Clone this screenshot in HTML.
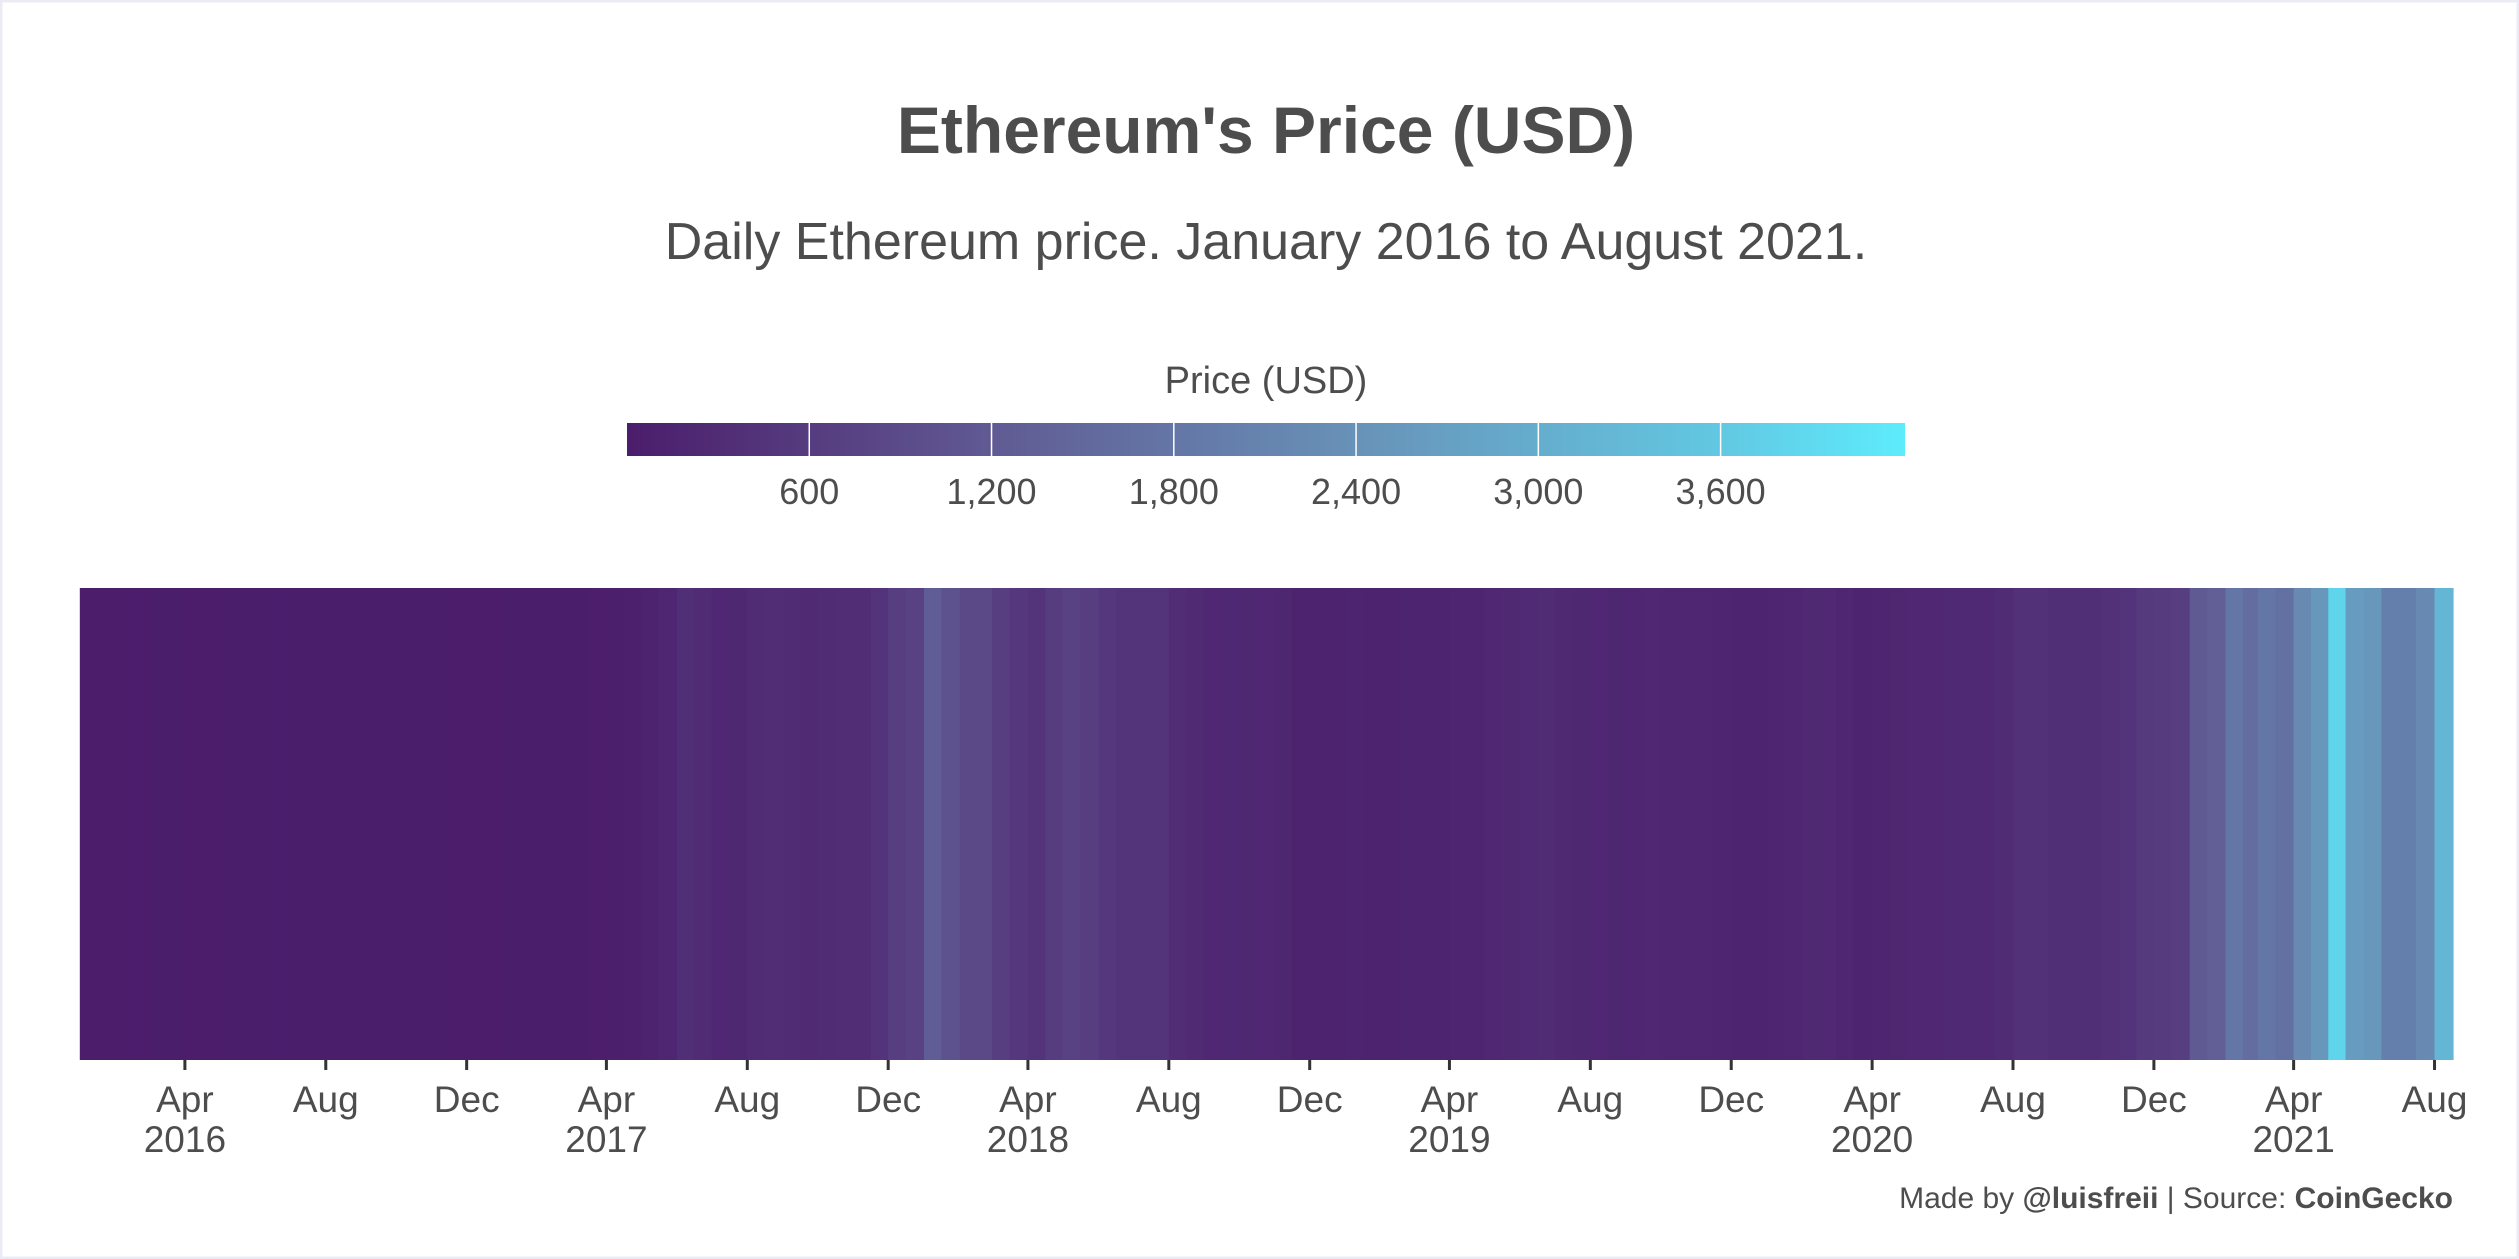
<!DOCTYPE html>
<html><head><meta charset="utf-8">
<style>
html,body{margin:0;padding:0;background:#fff;}
svg{display:block;font-family:"Liberation Sans",sans-serif;}
</style></head>
<body>
<svg id="chart" width="2519" height="1259" viewBox="0 0 2519 1259">
<rect x="1" y="1" width="2517" height="1257" fill="#fff" stroke="#ebebf5" stroke-width="3"/>
<text x="1266" y="153" text-anchor="middle" font-size="66" font-weight="bold" fill="#4d4d4d">Ethereum's Price (USD)</text>
<text x="1266" y="259" text-anchor="middle" font-size="52" fill="#4d4d4d">Daily Ethereum price. January 2016 to August 2021.</text>
<text x="1266" y="393" text-anchor="middle" font-size="38" fill="#4d4d4d">Price (USD)</text>
<defs>
<linearGradient id="grad" x1="0" x2="1" y1="0" y2="0">
<stop offset="0" stop-color="#4b1d6b"/><stop offset="0.285" stop-color="#605a93"/>
<stop offset="0.57" stop-color="#6892b8"/><stop offset="0.856" stop-color="#62c8e2"/>
<stop offset="1" stop-color="#5decfc"/></linearGradient>
</defs>
<rect x="627" y="423" width="1278" height="33" fill="url(#grad)"/>
<g id="legendTicks"></g>
<g id="cells"></g>
<g id="xaxis"></g>
<text x="2453" y="1208" text-anchor="end" font-size="30" fill="#4d4d4d">Made by <tspan font-weight="bold">@luisfreii</tspan> | Source: <tspan font-weight="bold">CoinGecko</tspan></text>
</svg>
<script>
const years=[2016,2017,2018,2019,2020,2021];
const prices2016=[1,1,2,5,10,11,8,8,10,13,15,13,11,12,11,11,12,13,12,11,10,9,8,8];
const prices2017=[10,10,11,13,22,45,48,50,90,180,350,300,200,210,300,320,290,280,300,310,320,450,650,720];
const prices2018=[1250,1050,850,850,650,520,450,620,720,640,520,450,460,460,320,280,200,225,210,200,190,120,90,120];
const prices2019=[130,115,125,140,135,140,165,165,200,250,260,300,250,215,200,190,180,200,180,180,180,150,140,130];
const prices2020=[150,170,250,240,170,130,160,190,205,205,235,235,240,300,400,400,360,355,360,400,460,570,600,640];
const prices2021=[1200,1300,1800,1600,1800,1700,2200,2500,3800,2600,2500,2000,2000,2200,3200];
const legendTicks=[600,1200,1800,2400,3000,3600];
const legendLabels=["600","1,200","1,800","2,400","3,000","3,600"];
const axisMonths=[3,7,11];
const monthNames=["Jan","Feb","Mar","Apr","May","Jun","Jul","Aug","Sep","Oct","Nov","Dec"];

const NS="http://www.w3.org/2000/svg";
const t0=Date.UTC(2016,0,1), tEnd=Date.UTC(2021,7,17);
const X0=79.8, X1=2453;
const pxDay=(X1-X0)/((tEnd-t0)/864e5);
const xScale=t=>X0+(t-t0)/864e5*pxDay;
const cMax=4207, cx0=627, cw=1278;
const lScale=v=>cx0+v/cMax*cw;
const stops=[[0,[75,29,107]],[1200,[96,90,147]],[2400,[104,146,184]],[3600,[98,200,226]],[4207,[93,236,252]]];
function color(v){
  v=Math.max(0,Math.min(cMax,v));
  for(let i=0;i<stops.length-1;i++){const a=stops[i],b=stops[i+1];
    if(v<=b[0]){const f=(v-a[0])/(b[0]-a[0]);
      return "rgb("+a[1].map((c,k)=>Math.round(c+(b[1][k]-c)*f)).join(",")+")";}}
  return "rgb(93,236,252)";
}
const lt=document.getElementById('legendTicks');
legendTicks.forEach((v,i)=>{
  const x=lScale(v);
  const l=document.createElementNS(NS,'line');
  l.setAttribute('x1',x);l.setAttribute('x2',x);l.setAttribute('y1',423);l.setAttribute('y2',456);
  l.setAttribute('stroke','#fff');l.setAttribute('stroke-width','1.5');
  
  
  lt.appendChild(l);
  const t=document.createElementNS(NS,'text');
  t.setAttribute('x',x);t.setAttribute('y',504);t.setAttribute('text-anchor','middle');
  t.setAttribute('font-size','36');t.setAttribute('fill','#4d4d4d');
  t.textContent=legendLabels[i];
  
  
  lt.appendChild(t);
});
const all=[prices2016,prices2017,prices2018,prices2019,prices2020,prices2021];
const segs=[];
all.forEach((arr,yi)=>arr.forEach((v,i)=>{
  const m=Math.floor(i/2), d=i%2?16:1;
  segs.push([Date.UTC(years[yi],m,d),v]);
}));
const cg=document.getElementById('cells');
segs.forEach((s,i)=>{
  const xa=xScale(s[0]), xb=i<segs.length-1?xScale(segs[i+1][0]):X1;
  const r=document.createElementNS(NS,'rect');
  r.setAttribute('x',xa);r.setAttribute('y',588);r.setAttribute('width',xb-xa+0.6);r.setAttribute('height',472);
  r.setAttribute('fill',color(s[1]));
  
  
  cg.appendChild(r);
});
const xg=document.getElementById('xaxis');
years.forEach(y=>axisMonths.forEach(m=>{
  const t=Date.UTC(y,m,1); if(t>tEnd) return;
  const x=xScale(t);
  const l=document.createElementNS(NS,'line');
  l.setAttribute('x1',x);l.setAttribute('x2',x);l.setAttribute('y1',1060);l.setAttribute('y2',1070);
  l.setAttribute('stroke','#333');l.setAttribute('stroke-width','3');
  
  
  xg.appendChild(l);
  const t1=document.createElementNS(NS,'text');
  t1.setAttribute('x',x);t1.setAttribute('y',1112);t1.setAttribute('text-anchor','middle');
  t1.setAttribute('font-size','37');t1.setAttribute('fill','#4d4d4d');
  t1.textContent=monthNames[m];
  
  
  xg.appendChild(t1);
  if(m===3){
    const t2=document.createElementNS(NS,'text');
    t2.setAttribute('x',x);t2.setAttribute('y',1152);t2.setAttribute('text-anchor','middle');
    t2.setAttribute('font-size','37');t2.setAttribute('fill','#4d4d4d');
    t2.textContent=String(y);
    
    
    xg.appendChild(t2);
  }
}));
</script>
</body></html>
